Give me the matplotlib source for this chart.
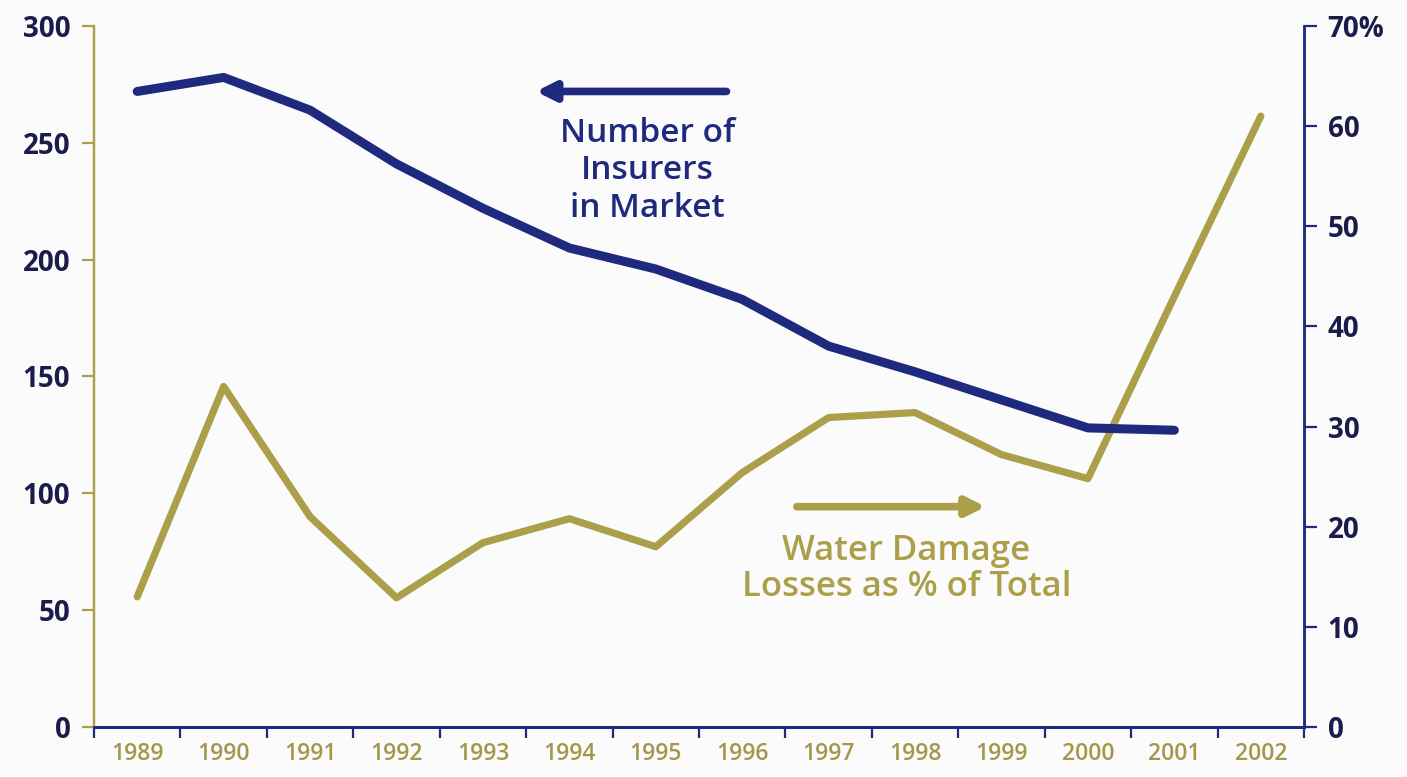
import matplotlib.pyplot as plt
from matplotlib.ticker import FixedLocator, NullFormatter

plt.rcParams['font.family'] = ['Open Sans', 'DejaVu Sans']

years = ['1989', '1990', '1991', '1992', '1993', '1994', '1995',
         '1996', '1997', '1998', '1999', '2000', '2001', '2002']
insurers = [272, 278, 264, 241, 222, 205, 196, 183, 163, 152, 140, 128, 127]
water_pct = [13.0, 34.0, 21.0, 12.9, 18.4, 20.8, 18.0, 25.4, 30.9, 31.4,
             27.2, 24.8, 43.0, 61.0]

navy = '#1f2a7e'
olive = '#ab9f4a'
label_dark = '#1b1c4a'
bg = '#fbfbfb'

fig = plt.figure(figsize=(14.07, 7.77), dpi=100, facecolor=bg)
ax = fig.add_axes([0.0668, 0.0644, 0.86, 0.9021], facecolor=bg)
ax2 = ax.twinx()

x = list(range(len(years)))

ax2.plot(x, water_pct, color=olive, lw=5.2, solid_joinstyle='round',
         solid_capstyle='round', zorder=2)
ax.plot(x[:len(insurers)], insurers, color=navy, lw=6.5,
        solid_capstyle='round', solid_joinstyle='round', zorder=3)
ax.set_zorder(ax2.get_zorder() + 1)
ax.patch.set_visible(False)

ax.set_xlim(-0.5, len(years) - 0.5)
ax.set_ylim(0, 300)
ax2.set_ylim(0, 70)

# category boundaries get the ticks, labels sit between them
ax.xaxis.set_major_locator(FixedLocator([i - 0.5 for i in range(len(years) + 1)]))
ax.xaxis.set_major_formatter(NullFormatter())
ax.xaxis.set_minor_locator(FixedLocator(x))
ax.set_xticklabels(years, minor=True)
ax.tick_params(axis='x', which='major', length=8, width=1.6, color=navy, direction='out')
ax.tick_params(axis='x', which='minor', length=0, pad=11, labelsize=16.5, labelcolor='#a3974a')
for t in ax.get_xticklabels(minor=True):
    t.set_fontweight('semibold')

ax.set_yticks([0, 50, 100, 150, 200, 250, 300])
ax.tick_params(axis='y', length=9, width=1.6, color=olive, pad=8,
               labelsize=20, labelcolor=label_dark)
for t in ax.get_yticklabels():
    t.set_fontweight('bold')

ax2.set_yticks([0, 10, 20, 30, 40, 50, 60, 70])
ax2.set_yticklabels(['0', '10', '20', '30', '40', '50', '60', '70%'])
ax2.tick_params(axis='y', length=9, width=1.6, color=navy, pad=8,
                labelsize=20, labelcolor=label_dark)
for t in ax2.get_yticklabels():
    t.set_fontweight('bold')

for a in (ax, ax2):
    a.spines['top'].set_visible(False)
    a.spines['left'].set_color(olive)
    a.spines['left'].set_linewidth(1.6)
    a.spines['right'].set_color(navy)
    a.spines['right'].set_linewidth(1.8)
    a.spines['bottom'].set_color(navy)
    a.spines['bottom'].set_linewidth(2.0)

# series annotations
ax.annotate('', xy=(4.58, 272), xytext=(6.85, 272),
            arrowprops=dict(arrowstyle='-|>,head_length=1.1,head_width=0.55',
                            color=navy, lw=5.5))
ax.text(5.9, 261, 'Number of\nInsurers\nin Market', color=navy, fontsize=24,
        fontweight='semibold', ha='center', va='top', linespacing=1.17)

ax2.annotate('', xy=(9.85, 22.0), xytext=(7.6, 22.0),
             arrowprops=dict(arrowstyle='-|>,head_length=1.1,head_width=0.55',
                             color=olive, lw=5.5))
ax2.text(8.9, 19.3, 'Water Damage\nLosses as % of Total', color=olive,
         fontsize=25, fontweight='semibold', ha='center', va='top',
         linespacing=1.08)

fig.savefig('out.png', dpi=100, facecolor=bg)
